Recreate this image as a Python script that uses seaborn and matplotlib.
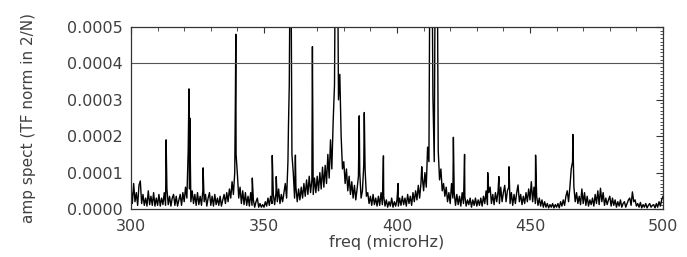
# -*- coding: utf-8 -*-

import numpy as np
import pandas as pd
import seaborn as sns
import matplotlib
matplotlib.use('Agg')
import matplotlib.pyplot as plt
from matplotlib.ticker import MultipleLocator, FormatStrFormatter

# noise floor, one value every 0.5 microHz from 300 to 500
# amplitudes in units of 1e-6 (values above 500 are the clipped peaks)
floor_start = 300.0
floor_step = 0.5
floor_amp = [
    60, 15, 70, 20, 45, 10, 65, 77, 15, 40, 10, 30, 8, 50, 12, 35, 10, 45, 8, 30,          # 300
    10, 40, 8, 30, 12, 45, 10, 55, 12, 35, 8, 30, 40, 10, 35, 8, 25, 40, 10, 45,           # 310
    20, 60, 30, 160, 55, 20, 50, 15, 40, 10, 45, 12, 35, 10, 50, 20, 40, 8, 30, 45,        # 320
    10, 35, 8, 40, 12, 30, 10, 35, 8, 25, 40, 15, 45, 20, 55, 30, 75, 40, 100, 150,        # 330
    95, 30, 60, 15, 50, 12, 45, 10, 35, 8, 45, 10, 25, 5, 20, 30, 5, 15, 5, 12,            # 340
    5, 20, 8, 30, 10, 35, 15, 40, 12, 45, 20, 55, 15, 40, 20, 45, 70, 30, 130, 340,        # 350
    900, 150, 100, 30, 60, 20, 55, 25, 60, 30, 70, 35, 80, 40, 90, 45, 80, 40, 85, 45,     # 360
    90, 50, 100, 55, 115, 60, 120, 70, 150, 85, 190, 110, 240, 340, 900, 900, 300, 370, 200, 110,  # 370
    130, 70, 110, 50, 90, 40, 75, 30, 65, 25, 55, 90, 100, 30, 50, 120, 110, 35, 45, 15,   # 380
    35, 10, 40, 12, 30, 8, 35, 10, 45, 12, 35, 8, 25, 5, 20, 8, 30, 5, 20, 8,              # 390
    25, 8, 30, 10, 35, 12, 30, 8, 40, 15, 35, 10, 45, 20, 50, 25, 65, 30, 70, 90,          # 400
    50, 100, 60, 170, 130, 900, 900, 310, 130, 900, 900, 160, 80, 110, 50, 70, 35, 60, 20, 45,  # 410
    15, 70, 30, 45, 10, 40, 12, 35, 8, 45, 15, 35, 8, 25, 12, 30, 5, 25, 10, 30,           # 420
    8, 25, 10, 30, 8, 35, 15, 50, 12, 45, 60, 15, 40, 12, 45, 20, 50, 15, 60, 20,          # 430
    45, 65, 20, 50, 60, 15, 45, 10, 40, 15, 45, 66, 20, 40, 12, 35, 15, 45, 20, 55,        # 440
    25, 75, 20, 60, 15, 35, 10, 30, 8, 25, 5, 20, 5, 15, 3, 12, 5, 15, 3, 12,              # 450
    5, 15, 3, 20, 8, 25, 10, 35, 50, 20, 60, 110, 130, 60, 20, 45, 15, 35, 12, 55,         # 460
    15, 45, 10, 35, 8, 25, 12, 30, 8, 40, 15, 50, 12, 57, 20, 45, 10, 30, 12, 25,          # 470
    35, 8, 30, 10, 25, 5, 20, 8, 25, 5, 15, 20, 5, 15, 25, 30, 10, 47, 20, 25,             # 480
    8, 15, 5, 18, 3, 12, 5, 15, 3, 10, 15, 5, 10, 12, 3, 15, 5, 20, 8, 25,                 # 490
    35,                                                                                    # 500
]

# narrow mode peaks sitting between the floor samples
peak_freq = [313.2, 321.8, 322.1, 327.1, 339.25, 339.4, 345.6, 353.1, 354.6, 359.2,
             361.8, 368.2, 385.8, 387.7, 394.9, 400.4, 409.3, 421.2, 425.4, 434.1,
             438.3, 442.1, 452.1, 466.1]
peak_amp = [190, 330, 250, 113, 310, 480, 85, 147, 89, 230,
            148, 446, 256, 265, 146, 70, 116, 197, 150, 100,
            89, 116, 148, 205]

floor_freq = floor_start + floor_step * np.arange(len(floor_amp))
df = pd.DataFrame({
    'freq': np.concatenate([floor_freq, peak_freq]),
    'amp': np.concatenate([floor_amp, peak_amp]) * 1e-6,
})

sns.set_style("white")
plt.rcParams['font.family'] = ['DejaVu Sans']
plt.rcParams['path.simplify'] = False
txt = '#404040'

fig = plt.figure(figsize=(6.87, 2.57), dpi=100)
ax = fig.add_axes([131 / 687, 1 - 209 / 257, 532 / 687, 182 / 257])

sns.lineplot(data=df, x='freq', y='amp', color='black', linewidth=1.0,
             estimator=None, ax=ax)
ax.axhline(0.0004, color='#555555', linewidth=0.8)

ax.set_xlim(300, 500)
ax.set_ylim(0, 0.0005)
ax.xaxis.set_major_locator(MultipleLocator(50))
ax.xaxis.set_minor_locator(MultipleLocator(10))
ax.yaxis.set_major_locator(MultipleLocator(0.0001))
ax.yaxis.set_minor_locator(MultipleLocator(0.00001))
ax.yaxis.set_major_formatter(FormatStrFormatter('%.4f'))

ax.tick_params(which='both', direction='in', top=True, right=True,
               colors='#333333', labelcolor=txt, labelsize=11.5)
ax.tick_params(axis='x', which='major', length=4, pad=7)
ax.tick_params(axis='x', which='minor', length=3)
ax.tick_params(axis='y', which='major', length=5, pad=6)
ax.tick_params(axis='y', which='minor', length=2.5)

for s in ax.spines.values():
    s.set_color('#333333')
    s.set_linewidth(0.9)

ax.set_xlabel('freq (microHz)', fontsize=11.5, color=txt)
ax.set_ylabel('amp spect (TF norm in 2/N)', fontsize=11, color=txt)
ax.xaxis.set_label_coords(0.48, -0.145)
ax.yaxis.set_label_coords(-0.178, 0.5)

plt.savefig('out.png', dpi=100)
